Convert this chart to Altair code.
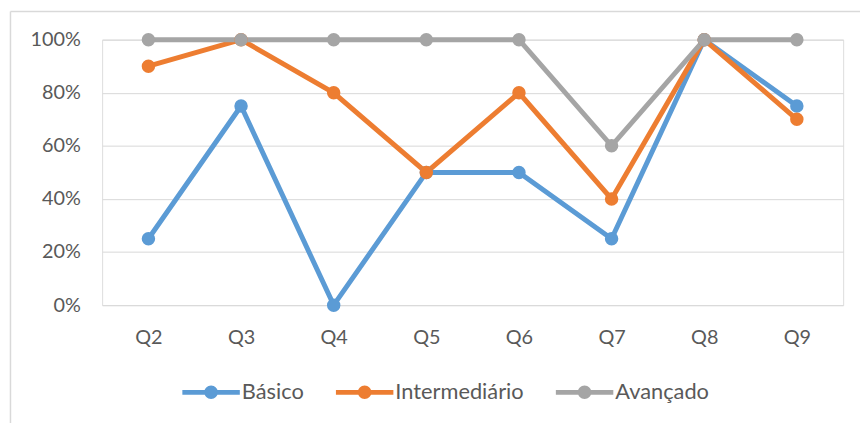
import altair as alt
import pandas as pd

questions = ["Q2", "Q3", "Q4", "Q5", "Q6", "Q7", "Q8", "Q9"]
series = ["Básico", "Intermediário", "Avançado"]
basico = [0.25, 0.75, 0.0, 0.5, 0.5, 0.25, 1.0, 0.75]
intermediario = [0.9, 1.0, 0.8, 0.5, 0.8, 0.4, 1.0, 0.7]
avancado = [1.0, 1.0, 1.0, 1.0, 1.0, 0.6, 1.0, 1.0]
colors = ["#5B9BD5", "#ED7D31", "#A5A5A5"]
y_ticks = [0, 0.2, 0.4, 0.6, 0.8, 1.0]

rows = []
for s, vals in zip(series, [basico, intermediario, avancado]):
    for q, v in zip(questions, vals):
        rows.append({"Questão": q, "Série": s, "Valor": v})
df = pd.DataFrame(rows)

FONT = "Lato"
LABEL_COLOR = "#595959"
GRID = "#d9d9d9"

x = alt.X("Questão:N", sort=questions,
          scale=alt.Scale(type="point", padding=0.5),
          axis=alt.Axis(title=None, labelAngle=0, domain=False, ticks=False,
                        labelPadding=23, labelFont=FONT, labelFontSize=20,
                        labelColor=LABEL_COLOR, grid=False))
y = alt.Y("Valor:Q", scale=alt.Scale(domain=[0, 1], nice=False),
          axis=alt.Axis(title=None, values=y_ticks, format=".0%", domain=False,
                        ticks=False, labelPadding=22, labelFont=FONT,
                        labelFontSize=20, labelColor=LABEL_COLOR, grid=True,
                        gridColor=GRID, gridWidth=1))
color_scale = alt.Scale(domain=series, range=colors)

sym = ("M-1,-0.082L1,-0.082L1,0.082L-1,0.082Z"
       "M-0.235,0A0.235,0.235,0,1,1,0.235,0A0.235,0.235,0,1,1,-0.235,0Z")

legend = alt.Legend(title=None, orient="none", direction="horizontal",
                    legendX=81, legendY=327, padding=0,
                    symbolType=sym, symbolSize=3364,
                    symbolStrokeWidth=0, symbolOpacity=1,
                    labelOffset=2, columnPadding=32,
                    labelFont=FONT, labelFontSize=22,
                    labelColor=LABEL_COLOR)

color = alt.Color("Série:N", scale=color_scale, sort=series, legend=legend)

lines = alt.Chart(df).mark_line(strokeWidth=5).encode(x=x, y=y, color=color)
points = alt.Chart(df).mark_circle(size=185, opacity=1).encode(x=x, y=y, color=color)

one = pd.DataFrame({"a": [0]})
frame_top = alt.Chart(one).mark_rule(color=GRID, strokeWidth=1.5).encode(
    x=alt.value(-92.5), x2=alt.value(770), y=alt.value(-28.5))
frame_left = alt.Chart(one).mark_rule(color=GRID, strokeWidth=1.5).encode(
    x=alt.value(-92.5), y=alt.value(-28.5), y2=alt.value(400))

chart = alt.layer(frame_top, frame_left, lines, points).properties(
    width=748, height=268,
    autosize=alt.AutoSizeParams(type="none"),
    padding={"left": 95, "top": 30, "right": 17, "bottom": 117},
).configure_view(stroke=None).configure(background="white")

chart.save("out.html", embed_options={"renderer": "svg", "actions": False})
